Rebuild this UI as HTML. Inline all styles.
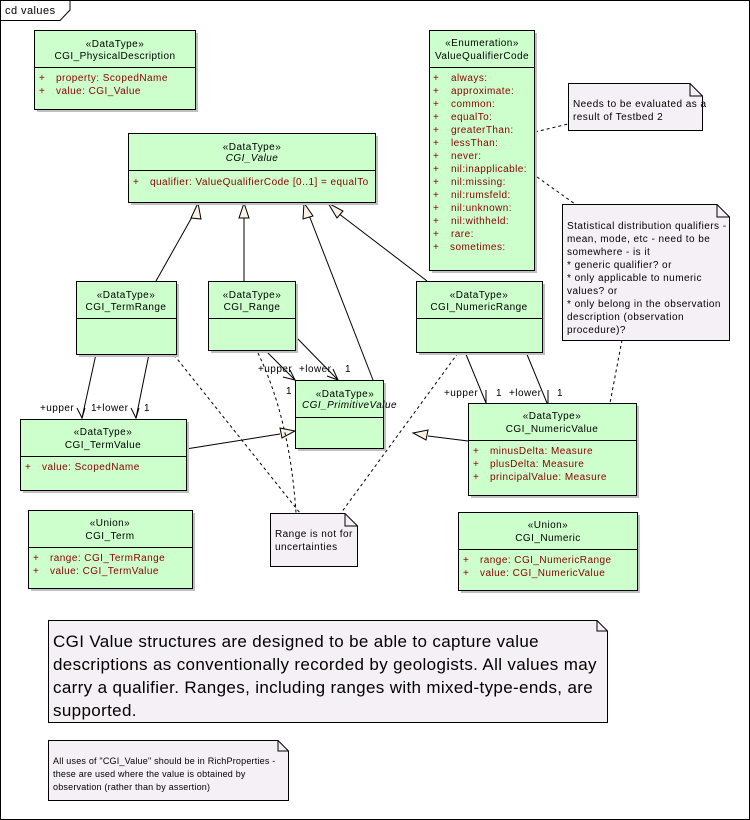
<!DOCTYPE html>
<html><head><meta charset="utf-8"><style>
html,body{margin:0;padding:0;background:#fff}
svg{display:block}
text{font-family:"Liberation Sans",sans-serif;font-size:10px;fill:#000;letter-spacing:0.45px}
.r{fill:#8b0000}
.c{text-anchor:middle}
.box{fill:#ccffcc;stroke:#000;stroke-width:1}
.sh{fill:#c0c0c0}
.note{fill:#f5f0f5;stroke:#000}
.ln{stroke:#000;stroke-width:1;fill:none}
.d{stroke:#000;stroke-width:1;fill:none;stroke-dasharray:3,3}
.tri{fill:#fbf0e4;stroke:#000}
</style></head><body>
<svg width="750" height="820" xmlns="http://www.w3.org/2000/svg">
<rect x="0.5" y="0.5" width="749" height="819" fill="#fff" stroke="#000"/>
<path d="M0.5 20.5 H60 L70 10 V0.5" class="ln"/>
<text x="5" y="14" style="font-size:11px">cd values</text>

<line x1="156" y1="281" x2="196" y2="210" class="ln"/>
<line x1="244" y1="281" x2="244" y2="210" class="ln"/>
<line x1="373" y1="380" x2="307" y2="210" class="ln"/>
<line x1="427" y1="281" x2="334" y2="210" class="ln"/>
<polygon points="198,203 191,218 201,219" class="tri"/>
<polygon points="244,203 239,218 249,218" class="tri"/>
<polygon points="304,203 303,219 313,216" class="tri"/>
<polygon points="328,203 337,218 343,211" class="tri"/>

<line x1="186" y1="449" x2="280" y2="434" class="ln"/>
<polygon points="295,431 280,428 282,438" class="tri"/>
<line x1="468" y1="441" x2="428" y2="436" class="ln"/>
<polygon points="413,433 428,430 426,440" class="tri"/>

<line x1="96" y1="354" x2="82" y2="418" class="ln"/>
<path d="M77 408 L82 418 L85 408" class="ln"/>
<line x1="149" y1="354" x2="136" y2="418" class="ln"/>
<path d="M131 408 L136 418 L139 408" class="ln"/>
<line x1="265" y1="350" x2="295" y2="380" class="ln"/>
<path d="M283 377 L295 380 L290 370" class="ln"/>
<line x1="295" y1="336" x2="338" y2="380" class="ln"/>
<path d="M327 376 L338 380 L333 369" class="ln"/>
<line x1="465" y1="352" x2="486" y2="403" class="ln"/>
<line x1="526" y1="352" x2="547" y2="403" class="ln"/>
<line x1="486" y1="390" x2="486" y2="403" class="ln"/>
<line x1="548" y1="390" x2="548" y2="403" class="ln"/>

<text x="40" y="411">+upper</text><text x="91" y="411">1</text>
<text x="96" y="411">+lower</text><text x="144" y="411">1</text>
<text x="258" y="372">+upper</text><text x="299" y="372">+lower</text><text x="345" y="372">1</text>
<text x="286" y="394">1</text>
<text x="444" y="396">+upper</text><text x="496" y="396">1</text>
<text x="509" y="396">+lower</text><text x="557" y="396">1</text>

<line x1="174" y1="355" x2="300" y2="513" class="d"/>
<path d="M258 353 Q290 420 296 513" class="d"/>
<line x1="458" y1="353" x2="341" y2="513" class="d"/>
<line x1="535" y1="132" x2="568" y2="124" class="d"/>
<line x1="537" y1="177" x2="575" y2="204" class="d"/>
<line x1="622" y1="340" x2="610" y2="403" class="d"/>

<rect x="37" y="33" width="161" height="79" class="sh"/>
<rect x="34.5" y="30.5" width="161" height="79" class="box"/>
<line x1="34.5" y1="67.5" x2="195.5" y2="67.5" class="ln"/>
<text x="115" y="47" class="c">«DataType»</text>
<text x="115" y="59" class="c">CGI_PhysicalDescription</text>
<text x="39" y="81" class="r">+</text><text x="56" y="81" class="r">property:  ScopedName</text>
<text x="39" y="94" class="r">+</text><text x="56" y="94" class="r">value:  CGI_Value</text>

<rect x="131" y="136" width="247" height="69" class="sh"/>
<rect x="128.5" y="133.5" width="247" height="69" class="box"/>
<line x1="128.5" y1="170.5" x2="375.5" y2="170.5" class="ln"/>
<text x="252" y="150" class="c">«DataType»</text>
<text x="252" y="161" class="c" font-style="italic">CGI_Value</text>
<text x="133" y="185" class="r">+</text><text x="150" y="185" class="r">qualifier:  ValueQualifierCode [0..1] = equalTo</text>

<rect x="432" y="33" width="105" height="240" class="sh"/>
<rect x="429.5" y="30.5" width="105" height="240" class="box"/>
<line x1="429.5" y1="67.5" x2="534.5" y2="67.5" class="ln"/>
<text x="482" y="46" class="c">«Enumeration»</text>
<text x="482" y="59" class="c">ValueQualifierCode</text>
<text x="433" y="81" class="r">+</text><text x="451" y="81" class="r">always:</text>
<text x="433" y="94" class="r">+</text><text x="451" y="94" class="r">approximate:</text>
<text x="433" y="107" class="r">+</text><text x="451" y="107" class="r">common:</text>
<text x="433" y="120" class="r">+</text><text x="451" y="120" class="r">equalTo:</text>
<text x="433" y="133" class="r">+</text><text x="451" y="133" class="r">greaterThan:</text>
<text x="433" y="146" class="r">+</text><text x="451" y="146" class="r">lessThan:</text>
<text x="433" y="159" class="r">+</text><text x="451" y="159" class="r">never:</text>
<text x="433" y="172" class="r">+</text><text x="451" y="172" class="r">nil:inapplicable:</text>
<text x="433" y="185" class="r">+</text><text x="451" y="185" class="r">nil:missing:</text>
<text x="433" y="198" class="r">+</text><text x="451" y="198" class="r">nil:rumsfeld:</text>
<text x="433" y="211" class="r">+</text><text x="451" y="211" class="r">nil:unknown:</text>
<text x="433" y="224" class="r">+</text><text x="451" y="224" class="r">nil:withheld:</text>
<text x="433" y="237" class="r">+</text><text x="451" y="237" class="r">rare:</text>
<text x="433" y="250" class="r">+</text><text x="450" y="250" class="r">sometimes:</text>

<path d="M568.5 83.5 H690 L702.5 96 V130.5 H568.5 Z" class="note"/>
<path d="M690 83.5 V96 H702.5" class="ln"/>
<text x="573" y="107">Needs to be evaluated as a</text>
<text x="573" y="120">result of Testbed 2</text>

<path d="M562.5 204.5 H717 L729.5 217 V340.5 H562.5 Z" class="note"/>
<path d="M717 204.5 V217 H729.5" class="ln"/>
<text x="567" y="229">Statistical distribution qualifiers -</text>
<text x="567" y="242">mean, mode, etc - need to be</text>
<text x="567" y="255">somewhere - is it</text>
<text x="567" y="268">* generic qualifier? or</text>
<text x="567" y="281">* only applicable to numeric</text>
<text x="567" y="294">values? or</text>
<text x="567" y="307">* only belong in the observation</text>
<text x="567" y="320">description (observation</text>
<text x="567" y="333">procedure)?</text>

<rect x="79" y="284" width="100" height="73" class="sh"/>
<rect x="76.5" y="281.5" width="100" height="73" class="box"/>
<line x1="76.5" y1="318.5" x2="176.5" y2="318.5" class="ln"/>
<text x="126" y="298" class="c">«DataType»</text>
<text x="126" y="310" class="c">CGI_TermRange</text>

<rect x="211" y="284" width="87" height="69" class="sh"/>
<rect x="208.5" y="281.5" width="87" height="69" class="box"/>
<line x1="208.5" y1="318.5" x2="295.5" y2="318.5" class="ln"/>
<text x="252" y="298" class="c">«DataType»</text>
<text x="252" y="310" class="c">CGI_Range</text>

<rect x="419" y="284" width="126" height="71" class="sh"/>
<rect x="416.5" y="281.5" width="126" height="71" class="box"/>
<line x1="416.5" y1="318.5" x2="542.5" y2="318.5" class="ln"/>
<text x="479" y="298" class="c">«DataType»</text>
<text x="479" y="310" class="c">CGI_NumericRange</text>

<rect x="298" y="383" width="88" height="68" class="sh"/>
<rect x="295.5" y="380.5" width="88" height="68" class="box"/>
<line x1="295.5" y1="417.5" x2="383.5" y2="417.5" class="ln"/>
<text x="345" y="397" class="c">«DataType»</text>
<text x="302" y="408" font-style="italic">CGI_PrimitiveValue</text>

<rect x="23" y="422" width="166" height="71" class="sh"/>
<rect x="20.5" y="419.5" width="166" height="71" class="box"/>
<line x1="20.5" y1="456.5" x2="186.5" y2="456.5" class="ln"/>
<text x="103" y="435" class="c">«DataType»</text>
<text x="103" y="448" class="c">CGI_TermValue</text>
<text x="25" y="470" class="r">+</text><text x="42" y="470" class="r">value:  ScopedName</text>

<rect x="471" y="406" width="168" height="92" class="sh"/>
<rect x="468.5" y="403.5" width="168" height="92" class="box"/>
<line x1="468.5" y1="440.5" x2="636.5" y2="440.5" class="ln"/>
<text x="552" y="419" class="c">«DataType»</text>
<text x="552" y="432" class="c">CGI_NumericValue</text>
<text x="473" y="454" class="r">+</text><text x="490" y="454" class="r">minusDelta:  Measure</text>
<text x="473" y="467" class="r">+</text><text x="490" y="467" class="r">plusDelta:  Measure</text>
<text x="473" y="480" class="r">+</text><text x="490" y="480" class="r">principalValue:  Measure</text>

<rect x="31" y="513" width="164" height="78" class="sh"/>
<rect x="28.5" y="510.5" width="164" height="78" class="box"/>
<line x1="28.5" y1="547.5" x2="192.5" y2="547.5" class="ln"/>
<text x="110" y="526" class="c">«Union»</text>
<text x="110" y="539" class="c">CGI_Term</text>
<text x="33" y="561" class="r">+</text><text x="50" y="561" class="r">range:  CGI_TermRange</text>
<text x="33" y="574" class="r">+</text><text x="50" y="574" class="r">value:  CGI_TermValue</text>

<rect x="461" y="515" width="179" height="78" class="sh"/>
<rect x="458.5" y="512.5" width="179" height="78" class="box"/>
<line x1="458.5" y1="549.5" x2="637.5" y2="549.5" class="ln"/>
<text x="548" y="528" class="c">«Union»</text>
<text x="548" y="541" class="c">CGI_Numeric</text>
<text x="463" y="563" class="r">+</text><text x="480" y="563" class="r">range:  CGI_NumericRange</text>
<text x="463" y="576" class="r">+</text><text x="480" y="576" class="r">value:  CGI_NumericValue</text>

<path d="M270.5 513.5 H345 L357.5 526 V566.5 H270.5 Z" class="note"/>
<path d="M345 513.5 V526 H357.5" class="ln"/>
<text x="275" y="537">Range is not for</text>
<text x="275" y="550">uncertainties</text>

<path d="M48.5 620.5 H597 L607.5 631 V722.5 H48.5 Z" class="note"/>
<path d="M597 620.5 V631 H607.5" class="ln"/>
<text x="53" y="647" style="font-size:17px;letter-spacing:0.35px">CGI Value structures are designed to be able to capture value</text>
<text x="53" y="670" style="font-size:17px;letter-spacing:0.35px">descriptions as conventionally recorded by geologists. All values may</text>
<text x="53" y="693" style="font-size:17px;letter-spacing:0.35px">carry a qualifier. Ranges, including ranges with mixed-type-ends, are</text>
<text x="53" y="716" style="font-size:17px;letter-spacing:0.35px">supported.</text>

<path d="M48.5 740.5 H278 L288.5 751 V800.5 H48.5 Z" class="note"/>
<path d="M278 740.5 V751 H288.5" class="ln"/>
<text x="53" y="764" style="font-size:9px;letter-spacing:0.2px">All uses of "CGI_Value" should be in RichProperties -</text>
<text x="53" y="777" style="font-size:9px;letter-spacing:0.2px">these are used where the value is obtained by</text>
<text x="53" y="790" style="font-size:9px;letter-spacing:0.2px">observation (rather than by assertion)</text>
</svg>
</body></html>
